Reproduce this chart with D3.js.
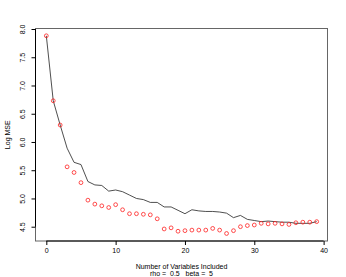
<!DOCTYPE html>
<html>
<head>
<meta charset="utf-8">
<script src="https://cdn.jsdelivr.net/npm/d3@7"></script>
<style>
  body { margin: 0; background: #fff; }
  text { font-family: "Liberation Sans", Arial, sans-serif; fill: #000; }
</style>
</head>
<body>
<script>
// number of variables in the model
var nVars = [0, 1, 2, 3, 4, 5, 6, 7, 8, 9, 10, 11, 12, 13, 14, 15, 16, 17, 18, 19,
             20, 21, 22, 23, 24, 25, 26, 27, 28, 29, 30, 31, 32, 33, 34, 35, 36, 37, 38, 39];
// black line
var mseLine = [7.88, 6.73, 6.30, 5.89, 5.64, 5.60, 5.30, 5.24, 5.23, 5.13,
               5.15, 5.12, 5.06, 5.00, 4.98, 4.93, 4.93, 4.85, 4.85, 4.79,
               4.73, 4.80, 4.78, 4.77, 4.77, 4.76, 4.74, 4.66, 4.70, 4.63,
               4.61, 4.59, 4.60, 4.59, 4.58, 4.58, 4.56, 4.56, 4.56, 4.59];
// red circles
var mseBest = [7.88, 6.73, 6.30, 5.56, 5.46, 5.28, 4.97, 4.90, 4.87, 4.84,
               4.89, 4.80, 4.73, 4.73, 4.72, 4.71, 4.64, 4.46, 4.48, 4.42,
               4.43, 4.44, 4.44, 4.44, 4.47, 4.44, 4.38, 4.43, 4.50, 4.52,
               4.53, 4.56, 4.55, 4.56, 4.55, 4.54, 4.57, 4.58, 4.58, 4.59];
var xTicks = [0, 10, 20, 30, 40];
var yTicks = [4.5, 5.0, 5.5, 6.0, 6.5, 7.0, 7.5, 8.0];

var width = 346, height = 277;
// plot box edges
var boxL = 35.5, boxR = 327.5, boxT = 28.5, boxB = 241;

var svg = d3.select("body").append("svg")
    .attr("width", width)
    .attr("height", height);

var x = d3.scaleLinear().domain([-1.56, 40.56]).range([boxL, boxR]);
var y = d3.scaleLinear().domain([4.247, 8.009]).range([boxB, boxT]);

// box
svg.append("rect")
    .attr("x", boxL).attr("y", boxT)
    .attr("width", boxR - boxL).attr("height", boxB - boxT)
    .attr("fill", "none")
    .attr("stroke", "#666")
    .attr("stroke-width", 1);

// x axis
var xAxis = svg.append("g").attr("transform", "translate(0," + boxB + ")")
    .call(d3.axisBottom(x).tickValues(xTicks).tickSize(4).tickPadding(3).tickSizeOuter(0));
xAxis.select(".domain").attr("d", "M" + x(0) + ",0H" + x(40)).attr("stroke", "#000");
xAxis.selectAll("text").style("font-size", "7px").attr("font-family", "Liberation Sans, Arial, sans-serif");

// y axis
var yAxis = svg.append("g").attr("transform", "translate(" + boxL + ",0)")
    .call(d3.axisLeft(y).tickValues(yTicks).tickSize(4).tickSizeOuter(0).tickFormat(d3.format(".1f")));
yAxis.select(".domain").attr("d", "M0," + y(4.5) + "V" + y(8.0)).attr("stroke", "#000");
yAxis.selectAll("text")
    .style("font-size", "7px")
    .attr("font-family", "Liberation Sans, Arial, sans-serif")
    .attr("text-anchor", "middle")
    .attr("x", 0).attr("dy", null)
    .attr("dominant-baseline", "central")
    .attr("transform", "translate(-13,0) rotate(-90)");

// line
var line = d3.line()
    .x(function (d, i) { return x(nVars[i]); })
    .y(function (d) { return y(d); });
svg.append("path")
    .datum(mseLine)
    .attr("d", line)
    .attr("fill", "none")
    .attr("stroke", "#222")
    .attr("stroke-width", 0.8);

// circles
svg.selectAll(".pt")
    .data(mseBest)
    .enter()
    .append("circle")
    .attr("class", "pt")
    .attr("cx", function (d, i) { return x(nVars[i]); })
    .attr("cy", function (d) { return y(d); })
    .attr("r", 1.9)
    .attr("fill", "none")
    .attr("stroke", "#ff2020")
    .attr("stroke-width", 0.8);

// labels
svg.append("text")
    .attr("x", (boxL + boxR) / 2).attr("y", 266)
    .attr("text-anchor", "middle")
    .attr("dominant-baseline", "central")
    .style("font-size", "7px")
    .text("Number of Variables Included");
svg.append("text")
    .attr("x", (boxL + boxR) / 2).attr("y", 273)
    .attr("text-anchor", "middle")
    .attr("dominant-baseline", "central")
    .style("white-space", "pre")
    .style("font-size", "7px")
    .text("rho =  0.5   beta =  5");
svg.append("text")
    .attr("transform", "translate(7," + ((boxT + boxB) / 2) + ") rotate(-90)")
    .attr("text-anchor", "middle")
    .attr("dominant-baseline", "central")
    .style("font-size", "7px")
    .text("Log MSE");
</script>
</body>
</html>
